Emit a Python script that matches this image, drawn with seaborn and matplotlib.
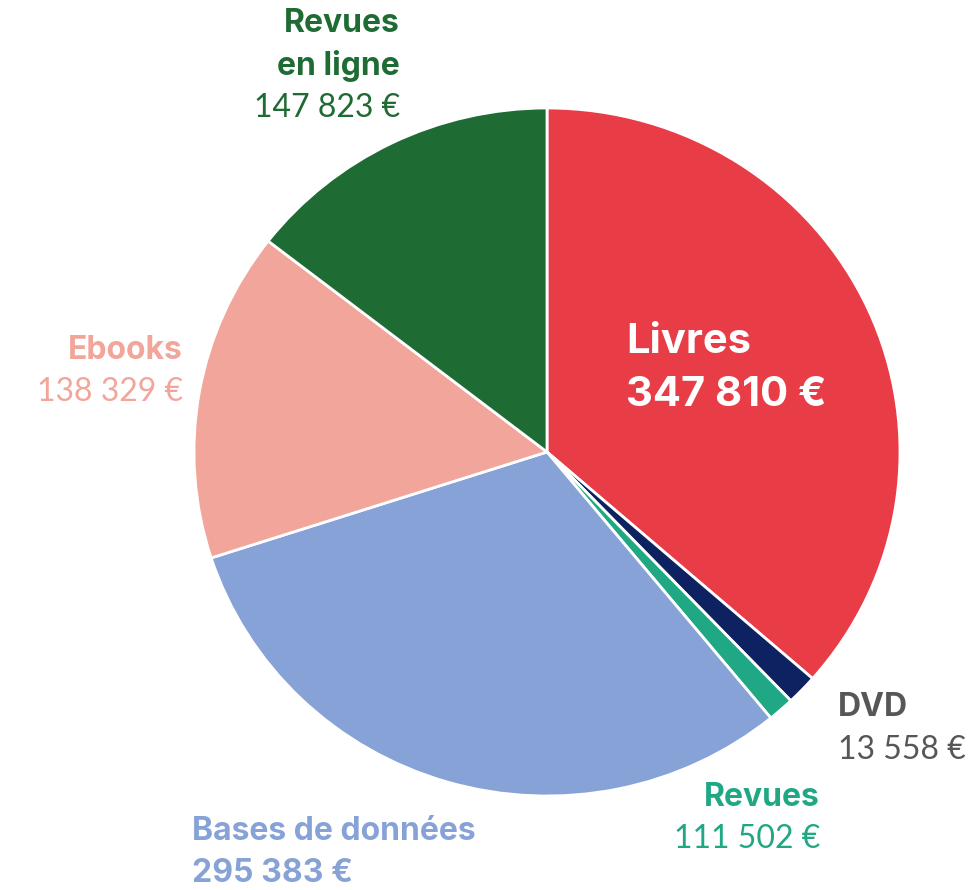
import matplotlib
matplotlib.use("Agg")
import matplotlib.pyplot as plt
import seaborn as sns

# slice sizes as drawn in the original chart; they do not all agree with the
# printed labels (the "Revues" slice is ~11 502, and the Ebooks / Revues en
# ligne slices are drawn with each other's amounts)
categories = ["Livres", "DVD", "Revues", "Bases de données", "Ebooks", "Revues en ligne"]
values = [347810, 13558, 11502, 295383, 147823, 138329]
value_labels = ["347 810 €", "13 558 €", "111 502 €", "295 383 €", "138 329 €", "147 823 €"]
colors = ["#E83C46", "#0E2160", "#20A884", "#87A2D6", "#F2A59B", "#1E6B33"]
text_colors = ["#FFFFFF", "#555759", "#20A884", "#87A2D6", "#F2A59B", "#1E6B33"]

sns.set_theme(style="white")
plt.rcParams["font.family"] = ["Lato", "DejaVu Sans"]

W, H = 977, 890
fig = plt.figure(figsize=(W / 100, H / 100), dpi=100)
ax = fig.add_axes([0, 0, 1, 1])

# original pie is slightly squashed vertically (353 px wide radius, 344 px tall)
sy = 344 / 353
ax.pie(values, colors=colors, startangle=90, counterclock=False,
       center=(547, (H - 452) / sy), radius=353,
       wedgeprops=dict(edgecolor="white", linewidth=2))
ax.set_xlim(0, W)
ax.set_ylim(0, H / sy)
ax.set_aspect("auto")
ax.axis("off")


def label(x, y, lines, color, ha, size=23):
    # lines: list of (text, weight); x, y are top-origin pixels of first line centre
    step = 42 if size < 30 else 53
    for k, (txt, wt) in enumerate(lines):
        if wt == "bold":
            fam = ["Inter", "DejaVu Sans"]
        else:
            fam = ["Lato", "DejaVu Sans"]
        fig.text(x / W, 1 - (y + k * step) / H, txt, color=color, ha=ha, va="center",
                 fontsize=size, fontweight=wt, family=fam)


label(626, 342, [(categories[0], "bold"), (value_labels[0], "bold")], text_colors[0], "left", size=30)
label(838, 708, [(categories[1], "bold"), (value_labels[1], "normal")], text_colors[1], "left")
label(820, 797, [(categories[2], "bold"), (value_labels[2], "normal")], text_colors[2], "right")
label(192, 832, [(categories[3], "bold"), (value_labels[3], "bold")], text_colors[3], "left")
label(183, 350, [(categories[4], "bold"), (value_labels[4], "normal")], text_colors[4], "right")
label(400, 24, [("Revues", "bold"), ("en ligne", "bold"), (value_labels[5], "normal")], text_colors[5], "right")

fig.savefig("out.png", dpi=100)
